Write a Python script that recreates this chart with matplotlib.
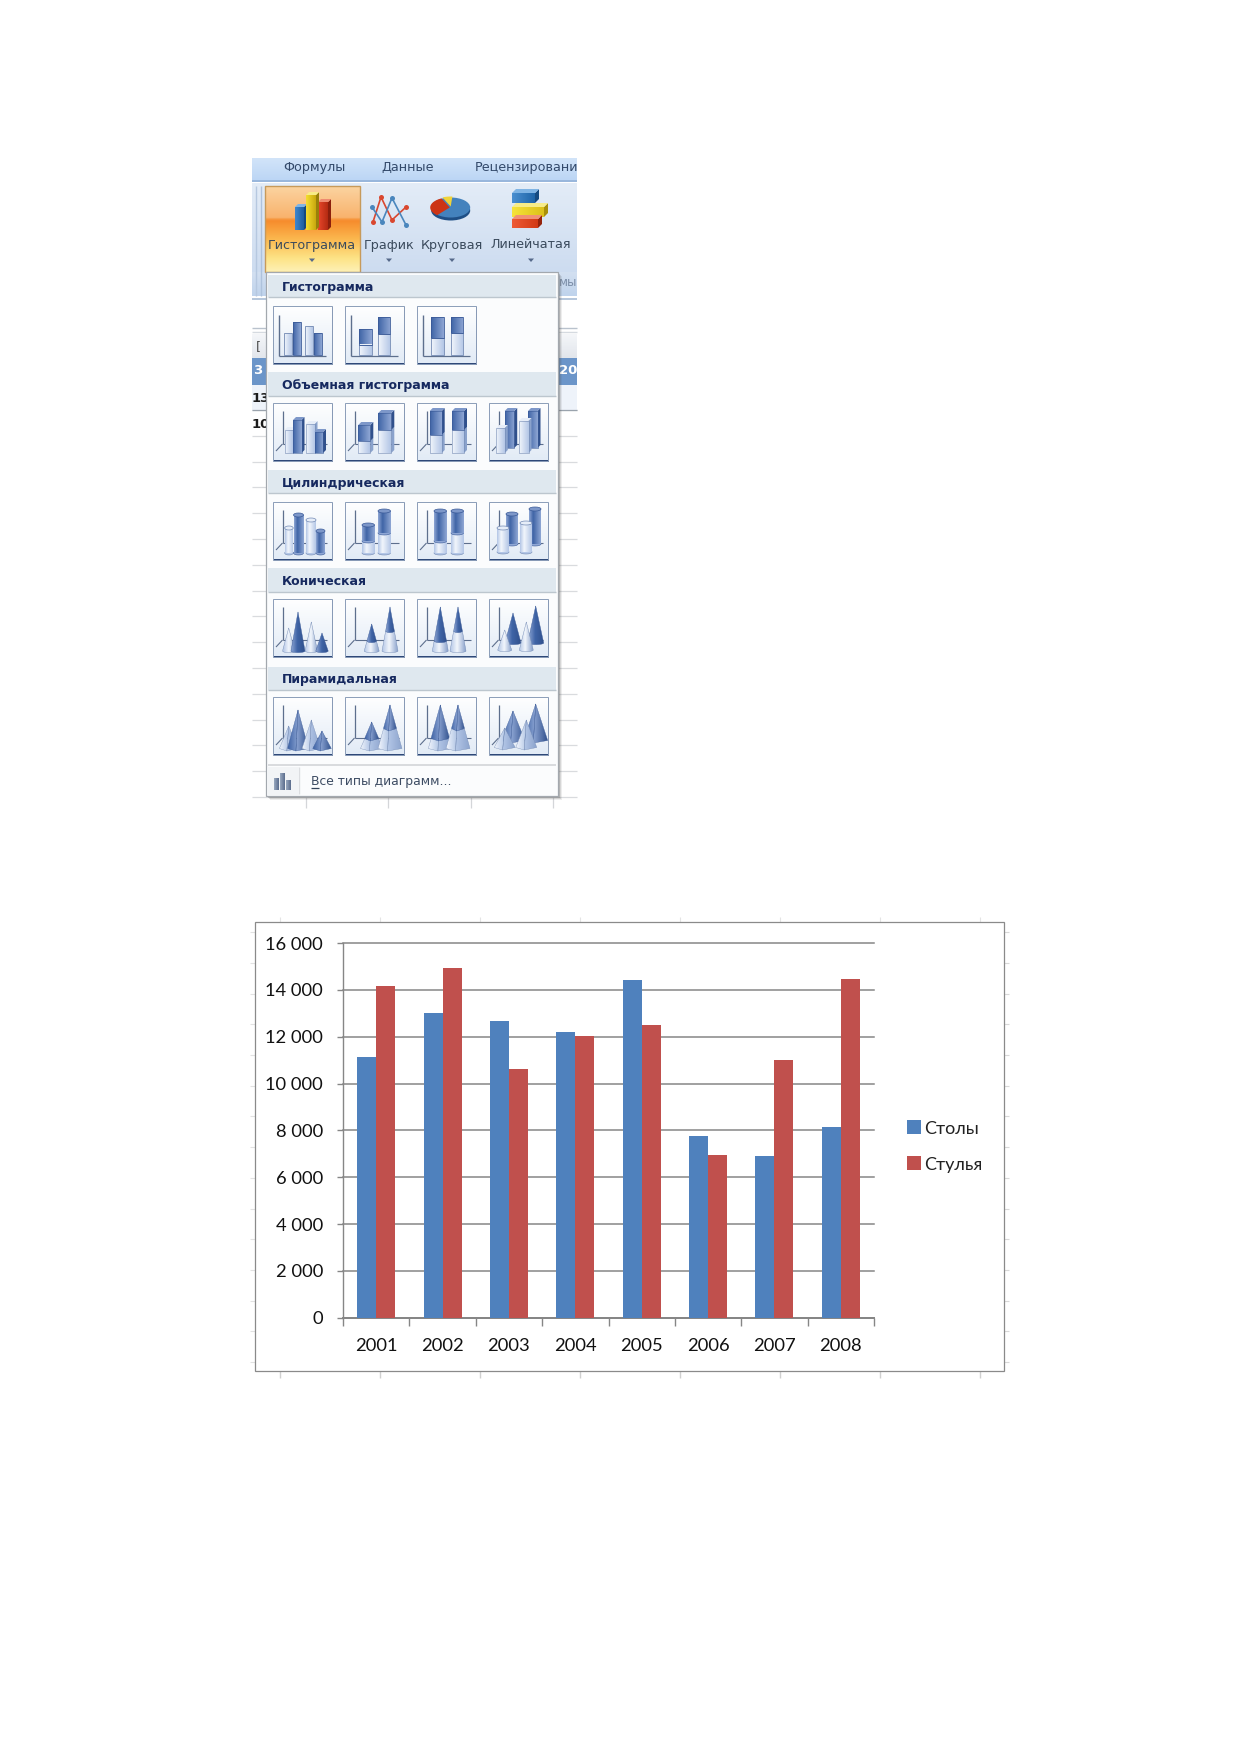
import numpy as np
import matplotlib
matplotlib.use("Agg")
import matplotlib.pyplot as plt
from matplotlib.patches import Polygon, Rectangle, Ellipse, Patch
from matplotlib.colors import to_rgb

# ---------- chart data ----------
years = ["2001", "2002", "2003", "2004", "2005", "2006", "2007", "2008"]
tables = [11140, 13020, 12680, 12210, 14430, 7770, 6910, 8150]
chairs = [14180, 14950, 10630, 12030, 12510, 6950, 11010, 14480]
series_names = ["Столы", "Стулья"]
y_ticks = [0, 2000, 4000, 6000, 8000, 10000, 12000, 14000, 16000]
y_labels = ["0", "2 000", "4 000", "6 000", "8 000", "10 000", "12 000", "14 000", "16 000"]

# ---------- menu texts ----------
tab_labels = ["Формулы", "Данные", "Рецензировани"]
button_labels = ["Гистограмма", "График", "Круговая", "Линейчатая"]
section_labels = ["Гистограмма", "Объемная гистограмма", "Цилиндрическая", "Коническая", "Пирамидальная"]
footer_label = "Все типы диаграмм..."

W, H = 1239, 1752
fig = plt.figure(figsize=(W / 100, H / 100), dpi=100, facecolor="white")
bg = fig.add_axes([0, 0, 1, 1], zorder=1)
bg.set_xlim(0, W)
bg.set_ylim(H, 0)
bg.axis("off")
bg.set_autoscale_on(False)

UI = "DejaVu Sans"
NAVY = "#16295f"
GR = "#3d4c63"
_z = [2.0]


def nz():
    _z[0] += 0.01
    return _z[0]


def gfill(pts, c0, c1, vertical=True, stops=None):
    """Polygon filled with a linear gradient."""
    pts = np.asarray(pts, float)
    x0, y0 = pts.min(axis=0)
    x1, y1 = pts.max(axis=0)
    z = nz()
    clip = Polygon(pts, closed=True, fc="none", ec="none", zorder=z)
    bg.add_patch(clip)
    if stops is None:
        stops = [(0, c0), (1, c1)]
    t = np.linspace(0, 1, 48)
    pos = [s[0] for s in stops]
    cols = np.array([to_rgb(s[1]) for s in stops])
    arr = np.stack([np.interp(t, pos, cols[:, i]) for i in range(3)], axis=-1)
    arr = arr[:, None, :] if vertical else arr[None, :, :]
    im = bg.imshow(arr, extent=(x0, x1, y1, y0), aspect="auto", origin="upper",
                   interpolation="bilinear", zorder=z)
    im.set_clip_path(clip)
    bg.set_xlim(0, W)
    bg.set_ylim(H, 0)


def rect_pts(x0, y0, x1, y1):
    return [(x0, y0), (x1, y0), (x1, y1), (x0, y1)]


def frect(x0, y0, x1, y1, c, ec="none", lw=0, alpha=None):
    bg.add_patch(Rectangle((x0, y0), x1 - x0, y1 - y0, fc=c, ec=ec, lw=lw, alpha=alpha, zorder=nz()))


def poly(pts, fc, ec="none", lw=0, alpha=None):
    bg.add_patch(Polygon(pts, closed=True, fc=fc, ec=ec, lw=lw, alpha=alpha, zorder=nz()))


def line(xs, ys, c, lw=0.8, alpha=None):
    bg.plot(xs, ys, color=c, lw=lw, alpha=alpha, zorder=nz(), solid_capstyle="butt")


def text(x, y, s, size, c=GR, weight="normal", ha="left", family=UI):
    return bg.text(x, y, s, fontsize=size, color=c, fontweight=weight, ha=ha, va="center",
                   family=family, zorder=nz())


# ---------- window background ----------
rows = [487.3 + 25.8 * k for k in range(-3, 13)]
for y in rows:
    line([252, 577], [y, y], "#d9dbde", 0.9)
for x in (306, 388, 471, 553):
    line([x, x], [797, 808], "#d4d6d9", 0.9)
frect(252, 301, 577, 327, "white")
line([252, 577], [328, 328], "#b9c2cd", 1.0)
line([252, 577], [332, 332], "#d5dae0", 1.0)
gfill(rect_pts(252, 334, 577, 358), "#f4f6f9", "#e2e6ec")
frect(252, 358, 577, 385, "#6b95c9")
frect(252, 385, 577, 410, "#eef3fa")
line([252, 577], [410, 410], "#9aa3ad", 0.9)
text(256, 347, "[", 9, "#4d4d4d")
text(253, 371, "3", 9.5, "white", "bold")
text(559, 371, "20", 9.5, "white", "bold")
text(252, 398, "13", 9.5, "#1c1c1c", "bold")
text(252, 425, "10", 9.5, "#1c1c1c", "bold")

# ribbon
gfill(rect_pts(252, 158, 577, 180), "#d2e4f9", "#bcd6f5")
line([252, 577], [180.5, 180.5], "#8fb0d9", 1.3)
gfill(rect_pts(252, 183, 577, 272), "#e3ecf7", "#cddcf0")
gfill(rect_pts(252, 272, 577, 296), "#d3e0f1", "#bfd3ec")
line([252, 577], [299, 299], "#a8bcd6", 1.2)
line([256, 256], [186, 296], "#b6c8e0", 1.0)
line([261, 261], [186, 296], "#aec2dc", 1.0)

x_tab = [314, 408, 475]
for i, s in enumerate(tab_labels):
    t = text(x_tab[i], 167.5, s, 9.2, "#33496a", ha="center" if i < 2 else "left")
    if i == 2:
        clip = Rectangle((252, 150), 325, 40, transform=bg.transData)
        t.set_clip_path(clip)
text(558.5, 283, "мы", 8.5, "#7c8ea8")

# highlighted button
gfill(rect_pts(265, 186, 360, 272), None, None,
      stops=[(0, "#fbd3a0"), (0.37, "#f9b26c"), (0.39, "#f6892a"), (0.62, "#fbb84f"), (0.85, "#fde487"), (1, "#fef0b4")])
bg.add_patch(Rectangle((265, 186), 95, 86, fc="none", ec="#c79a5a", lw=1.0, zorder=nz()))


def bar3(x0, x1, y0, y1, c_face0, c_face1, c_side, c_top, d=3):
    poly([(x1, y0), (x1 + d, y0 - d), (x1 + d, y1 - d), (x1, y1)], c_side)
    poly([(x0, y0), (x0 + d, y0 - d), (x1 + d, y0 - d), (x1, y0)], c_top)
    gfill(rect_pts(x0, y0, x1, y1), c_face0, c_face1, vertical=False)


bar3(295, 304, 207, 230, "#3f87cf", "#1f5f9f", "#154a80", "#7fb4e4")
bar3(318, 328, 202, 230, "#e8472b", "#b42a12", "#8c1e0c", "#ee8a70")
bar3(306, 316, 195, 230, "#f5de30", "#c9a80f", "#98800a", "#f7ec88")

# line icon
line([373, 381, 392, 406], [222, 197, 220, 207], "#d9472f", 1.2)
line([372, 382, 392, 406], [207, 222, 198, 225], "#4a86bd", 1.2)
bg.scatter([373, 381, 392, 406], [222, 197, 220, 207], s=13, c="#d9472f", zorder=nz(), lw=0)
bg.scatter([372, 382, 392, 406], [207, 222, 198, 225], s=13, c="#4a86bd", zorder=nz(), lw=0)

# pie icon
cx, cy, rx, ry = 450.7, 207.5, 19.5, 10
bg.add_patch(Ellipse((cx, cy + 3), 2 * rx, 2 * ry, fc="#1f4f86", zorder=nz()))
bg.add_patch(Ellipse((cx, cy), 2 * rx, 2 * ry, fc="#4482bd", zorder=nz()))


def wedge(a0, a1, c, ox=0, oy=0):
    a = np.radians(np.linspace(a0, a1, 30))
    pts = [(cx + ox, cy + oy)] + [(cx + ox + rx * np.cos(v), cy + oy + ry * np.sin(v)) for v in a]
    poly(pts, c)


wedge(130, 245, "#cc3415", -1, 0)
wedge(245, 275, "#f0d33a", 0, -1)

# horizontal bars icon
bar3(512, 535, 193, 203, "#4a8fd0", "#1f65a8", "#154a80", "#7fb4e4", d=4)
bar3(512, 544, 207, 217, "#f6e33a", "#dcc01a", "#a88f0a", "#f7ec88", d=4)
bar3(512, 538, 219, 228, "#ee5a35", "#d23a16", "#95230c", "#f19174", d=4)

xbl = [312, 389, 452, 531]
for i, s in enumerate(button_labels):
    text(xbl[i], 245, s, 9.2, "#3a4a5c", ha="center")
    poly([(xbl[i] - 3, 258.5), (xbl[i] + 3, 258.5), (xbl[i], 262)], "#56698a")

# ---------- menu ----------
for k, a in ((4, 0.10), (3, 0.15), (2, 0.25), (1, 0.3)):
    frect(266 + k, 272 + k, 558 + k, 796 + k, "#555555", alpha=a)
frect(266, 272, 558, 796, "#fbfcfd", ec="#a3a8ae", lw=0.9)
sections = [(275, 297), (372, 396), (470, 493), (568, 592), (667, 690)]
for (y0, y1), s in zip(sections, section_labels):
    frect(268, y0, 556, y1, "#dfe8ef")
    line([268, 556], [y1, y1], "#bcc6ce", 1.0)
    text(282, (y0 + y1) / 2 + 1.5, s, 9.0, NAVY, "bold")
line([268, 556], [765, 765], "#d3d5d8", 1.2)
line([299, 299], [767, 794], "#dcdee1", 1.0)
frect(267, 767, 299, 795, "#f2f4f6")
text(311, 781.5, footer_label, 8.9, GR)
line([311, 319], [788, 788], "#33435a", 0.9)
for x0, x1, y0 in ((274, 279, 778), (280, 285, 773), (286, 291, 780)):
    gfill(rect_pts(x0, y0, x1, 790), "#9aa9c0", "#5a6c8c", vertical=False)

# ---------- gallery tiles ----------
col_x = [273, 345, 417, 489]
row_y = [306, 403, 502, 599, 697]
TW, THT = 58.5, 57.5
STY = {"L": ("#f2f6fc", "#b3c6e6", "#8aa2cc", "#e6edf8", "#7289b3"),
       "D": ("#3f64a6", "#8ea6d4", "#30508c", "#7d97c9", "#3a5a98")}


def tile(x, y):
    frect(x + 1, y + 1, x + TW + 1.2, y + THT + 1.2, "#2e4878")
    gfill(rect_pts(x, y, x + TW, y + THT), "#ffffff", "#e2ebf6")
    bg.add_patch(Rectangle((x, y), TW, THT, fc="none", ec="#8b9db8", lw=0.7, zorder=nz()))


def axes2d(x, y):
    line([x + 6, x + 6], [y + 9, y + 50], "#5d6f8d", 1.0)
    line([x + 6, x + 53], [y + 50, y + 50], "#5d6f8d", 0.9)


def axes3d(x, y):
    line([x + 9.5, x + 9.5], [y + 8, y + 41], "#5d6f8d", 0.9)
    line([x + 3, x + 9.5], [y + 48, y + 41], "#5d6f8d", 0.8)
    line([x + 9.5, x + 54], [y + 41, y + 41], "#5d6f8d", 0.8)


def flat(x, y, l, w, top, base, s):
    c = STY[s]
    gfill(rect_pts(x + l, y + top, x + l + w, y + base), c[0], c[1], vertical=False)
    bg.add_patch(Rectangle((x + l, y + top), w, base - top, fc="none", ec=c[4], lw=0.6, zorder=nz()))


def box(x, y, l, w, top, base, s, cap=True):
    c = STY[s]
    d = 3
    X0, X1, T, B = x + l, x + l + w, y + top, y + base
    poly([(X1, T), (X1 + d, T - d), (X1 + d, B - d), (X1, B)], c[2])
    gfill(rect_pts(X0, T, X1, B), c[0], c[1], vertical=False)
    if cap:
        poly([(X0, T), (X0 + d, T - d), (X1 + d, T - d), (X1, T)], c[3])
    bg.add_patch(Rectangle((X0, T), w, B - T, fc="none", ec=c[4], lw=0.4, zorder=nz()))


def cyl(x, y, l, w, top, base, s, cap=True):
    c = STY[s]
    X0, X1, T, B = x + l, x + l + w, y + top, y + base
    e = 2.0
    bg.add_patch(Ellipse(((X0 + X1) / 2, B), w, 2 * e, fc=c[1], ec=c[4], lw=0.4, zorder=nz()))
    gfill(rect_pts(X0, T, X1, B), None, None, vertical=False,
          stops=[(0, c[1]), (0.35, c[0]), (1, c[1])])
    if cap:
        bg.add_patch(Ellipse(((X0 + X1) / 2, T), w, 2 * e, fc=c[3], ec=c[4], lw=0.5, zorder=nz()))


CONE_BASE = [52]


def cone(x, y, cx_, hw, apex, top, base, s):
    c = STY[s]
    X, A, T, B = x + cx_, y + apex, y + top, y + base
    f = lambda yy: hw * (yy - A) / (y + CONE_BASE[0] - A)
    wt, wb = f(T), f(B)
    a = np.radians(np.linspace(0, 180, 14))
    pts = [(X - wt, T), (X + wt, T)] + [(X + wb * np.cos(v), B + 1.6 * np.sin(v)) for v in a]
    gfill(pts, None, None, vertical=False, stops=[(0, c[1]), (0.45, c[0]), (1, c[2])])
    poly(pts, "none", ec=c[4], lw=0.3)


def pyr(x, y, cx_, hw, apex, top, base, s):
    c = STY[s]
    hw = hw * 1.5
    X, A, T, B = x + cx_, y + apex, y + top, y + base
    f = lambda yy: hw * (yy - A) / (y + CONE_BASE[0] - A)
    wt, wb = f(T), f(B)
    off = 0.2
    pl = [(X - wt, T), (X - wt * off, T), (X - wb * off, B + 2), (X - wb, B - 0.5)]
    pr = [(X - wt * off, T), (X + wt, T), (X + wb, B - 0.5), (X - wb * off, B + 2)]
    gfill(pl, c[0], c[1], vertical=False)
    gfill(pr, c[1], c[2], vertical=False)
    poly(pl, "none", ec=c[4], lw=0.25)
    poly(pr, "none", ec=c[4], lw=0.25)


FLAT = [
    [(11, 8, 27, 49, "L"), (19.5, 8, 16, 49, "D"), (32, 8, 20, 49, "L"), (40.5, 8, 27, 49, "D")],
    [(14.3, 12.4, 38.5, 49, "L"), (14.3, 12.4, 23, 38.5, "D"), (33, 12.4, 28, 49, "L"), (33, 12.4, 11, 28, "D")],
    [(14.3, 12.4, 32, 49, "L"), (14.3, 12.4, 11, 32, "D"), (33.7, 12.4, 27, 49, "L"), (33.7, 12.4, 11, 27, "D")],
]
COLS = [
    [(11.7, 8, 27, 50, "L"), (20, 8.5, 17, 50, "D"), (33, 8.5, 21, 50, "L"), (41.5, 8.5, 29, 50, "D")],
    [(13.3, 12, 38, 50, "L"), (13.3, 12, 22, 38, "D"), (33.3, 13, 27, 50, "L"), (33.3, 13, 10, 27, "D")],
    [(12.7, 12, 32, 50, "L"), (12.7, 12, 8, 32, "D"), (35, 12, 27, 50, "L"), (35, 12, 8, 27, "D")],
    [(15.7, 9.5, 8, 45, "D"), (39, 9.5, 8, 45, "D"), (7.3, 8.5, 25, 50, "L"), (30, 9.5, 18, 50, "L")],
]
CYLS = [
    [(11.7, 8.5, 26, 51, "L"), (20.5, 10, 13, 51, "D"), (33, 10, 18, 51, "L"), (43, 9, 29, 51, "D")],
    [(17, 12.5, 39, 51, "L"), (17, 12.5, 23, 39, "D"), (33, 12.5, 31, 51, "L"), (33, 12.5, 9, 31, "D")],
    [(17, 12.5, 39, 51, "L"), (17, 12.5, 9, 39, "D"), (34, 12.5, 31, 51, "L"), (34, 12.5, 9, 31, "D")],
    [(17, 12, 12, 42, "D"), (40, 12, 7, 42, "D"), (8, 12, 26, 50, "L"), (31, 12, 21, 50, "L")],
]
PEAKS = [
    [(15.7, 6.2, 29, 52, None, "L"), (25, 7, 13, 52, None, "D"), (38.3, 6.2, 23, 52, None, "L"), (49, 6.2, 34, 52, None, "D")],
    [(26.7, 7.5, 25, 52, 42, "S"), (45, 8, 8, 52, 32, "S")],
    [(23.3, 8, 8, 52, 42, "S"), (41, 8, 8, 52, 32, "S")],
    [(24, 8, 14, 44, None, "D"), (46.7, 8, 7, 44, None, "D"), (15.7, 7, 31, 51, None, "L"), (37.3, 7, 23, 51, None, "L")],
]

for j, spec in enumerate(FLAT):
    x, y = col_x[j], row_y[0]
    tile(x, y)
    axes2d(x, y)
    for l, w, t, b, s in spec:
        flat(x, y, l, w, t, b, s)

for ci in range(4):
    for r, fn, spec in ((1, box, COLS[ci]), (2, cyl, CYLS[ci])):
        x, y = col_x[ci], row_y[r]
        tile(x, y)
        axes3d(x, y)
        for l, w, t, b, s in spec:
            has_cap = not (ci in (1, 2) and s == "L")
            fn(x, y, l, w, t, b, s, has_cap)

for ci, spec in enumerate(PEAKS):
    for r, fn in ((3, cone), (4, pyr)):
        x, y = col_x[ci], row_y[r]
        tile(x, y)
        axes3d(x, y)
        for cx_, hw, apex, base, split, s in spec:
            CONE_BASE[0] = base
            if s == "S":
                fn(x, y, cx_, hw, apex, split, base, "L")
                fn(x, y, cx_, hw, apex, apex + 0.01, split, "D")
            else:
                fn(x, y, cx_, hw, apex, apex + 0.01, base, s)

# ---------- chart frame ----------
for x in range(280, 1000, 100):
    line([x, x], [1371, 1378], "#d0d0d0", 1.0)
    line([x, x], [917, 925], "#e4e4e4", 0.8)
for k in range(15):
    y = 1362 - 30.7 * k
    line([250, 255], [y, y], "#e2e2e2", 0.8)
    line([1004, 1009], [y, y], "#d8d8d8", 0.8)
bg.add_patch(Rectangle((254.5, 921.5), 749.5, 449.5, fc="white", ec="#8a8a8a", lw=0.9, zorder=nz()))

# ---------- bar chart ----------
L, R, T, B = 343.0, 874.0, 943.0, 1317.7
ax = fig.add_axes([L / W, 1 - B / H, (R - L) / W, (B - T) / H], zorder=5)
ax.patch.set_alpha(0)
x = np.arange(len(years))
bw = 1 / 3.5
ax.bar(x - bw / 2, tables, bw, color="#4f81bd", zorder=3, label=series_names[0])
ax.bar(x + bw / 2, chairs, bw, color="#c0504d", zorder=3, label=series_names[1])
ax.set_xlim(-0.5, len(years) - 0.5)
ax.set_ylim(0, 16000)
ax.set_yticks(y_ticks)
ax.set_yticklabels(y_labels)
ax.set_xticks(x)
ax.set_xticklabels(years)
ax.set_xticks(np.arange(-0.5, len(years)), minor=True)
ax.grid(axis="y", color="#868686", lw=1.1, zorder=1)
for gl in ax.get_ygridlines():
    gl.set_clip_on(False)
for s in ("top", "right"):
    ax.spines[s].set_visible(False)
for s in ("left", "bottom"):
    ax.spines[s].set_color("#868686")
ax.spines["left"].set_linewidth(1.0)
ax.spines["bottom"].set_linewidth(1.4)
ax.tick_params(axis="y", length=4.3, width=1.0, color="#868686", pad=10, labelsize=13.2, labelcolor="#111111")
ax.tick_params(axis="x", which="major", length=0, pad=14.5, labelsize=13.2, labelcolor="#111111")
ax.tick_params(axis="x", which="minor", length=5.5, width=1.0, color="#868686")
for lab in ax.get_xticklabels() + ax.get_yticklabels():
    lab.set_family("Lato")
handles = [Patch(fc="#4f81bd", ec="none"), Patch(fc="#c0504d", ec="none")]
fig.legend(handles, series_names, loc="center left", bbox_to_anchor=(907 / W, 1 - 1146.5 / H),
           frameon=False, prop={"family": "Lato", "size": 13}, labelcolor="#222222",
           handlelength=0.76, handleheight=0.8, handletextpad=0.2, labelspacing=1.1,
           borderpad=0, borderaxespad=0)

fig.savefig("out.png", dpi=100, facecolor="white")
